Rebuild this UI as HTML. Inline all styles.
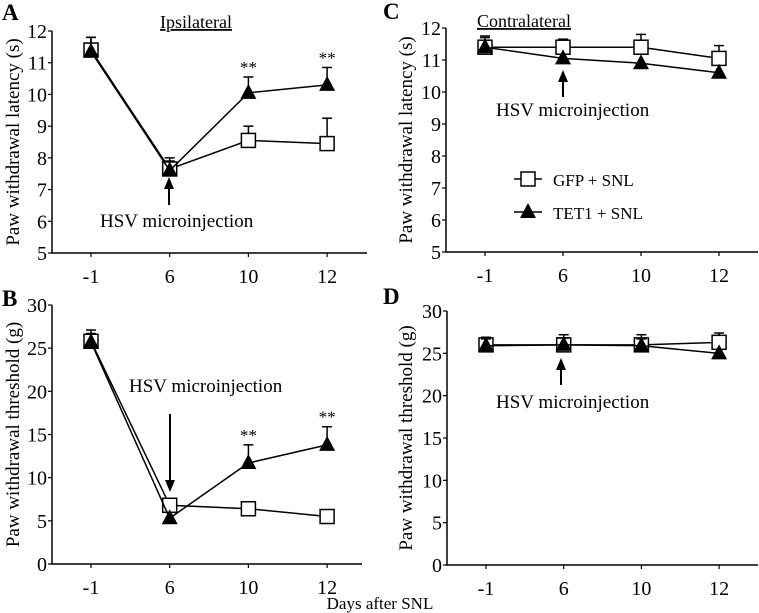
<!DOCTYPE html>
<html><head><meta charset="utf-8"><style>
body{margin:0;background:#fff}
svg{display:block;font-family:"Liberation Serif","Times New Roman",serif}
</style></head><body>
<svg id="chart" width="759" height="613" viewBox="0 0 759 613"></svg>
<script>
const categories = ["-1","6","10","12"];
const aGfp = [11.4, 7.65, 8.55, 8.45];
const aGfpErr = [0.4, 0.35, 0.45, 0.8];
const aTet = [11.35, 7.6, 10.05, 10.3];
const aTetErr = [0.45, 0.3, 0.5, 0.55];
const bGfp = [25.8, 6.8, 6.4, 5.5];
const bGfpErr = [1.3, 0.3, 0.5, 0.6];
const bTet = [25.7, 5.3, 11.7, 13.8];
const bTetErr = [1.0, 0, 2.1, 2.1];
const cGfp = [11.4, 11.4, 11.4, 11.05];
const cGfpErr = [0.35, 0.25, 0.4, 0.4];
const cTet = [11.4, 11.05, 10.9, 10.6];
const cTetErr = [0.3, 0, 0, 0];
const dGfp = [26, 26, 26, 26.3];
const dGfpErr = [0.9, 1.2, 1.2, 1.1];
const dTet = [25.9, 26, 25.9, 25];
const dTetErr = [0.8, 0.8, 0.8, 0];
const latTicks = [5,6,7,8,9,10,11,12];
const thrTicks = [0,5,10,15,20,25,30];

const NS="http://www.w3.org/2000/svg";
const svg=document.getElementById('chart');
function mk(tag,attrs,parent,text){const e=document.createElementNS(NS,tag);for(const k in attrs)e.setAttribute(k,attrs[k]);if(text!==undefined)e.textContent=text;(parent||svg).appendChild(e);return e;}

function panel(o){
  const g=mk('g',{});
  
  
  const y=v=>o.y0+(v-o.ymin)/(o.ymax-o.ymin)*(o.y1-o.y0);
  const x=i=>o.xs+i*o.xstep;
  const ax=mk('path',{d:`M${o.ax},${o.y1} V${o.y0} H${o.axEnd}`,stroke:'#000','stroke-width':1.5,fill:'none'},g);
  
  
  o.ticks.forEach(t=>{
    mk('line',{x1:o.ax-4,x2:o.ax,y1:y(t),y2:y(t),stroke:'#000','stroke-width':1.2},g);
    const tl=mk('text',{x:o.ax-5,y:y(t)+7,'text-anchor':'end','font-size':20},g,String(t));
    
    
  });
  categories.forEach((c,i)=>{
    mk('line',{x1:x(i),x2:x(i),y1:o.y0,y2:o.y0+4,stroke:'#000','stroke-width':1.2},g);
    const tl=mk('text',{x:x(i),y:o.y0+30,'text-anchor':'middle','font-size':20},g,c);
    
    
  });
  const yt=mk('text',{transform:`translate(${o.ytx},${(o.y0+o.y1)/2}) rotate(-90)`,'text-anchor':'middle','font-size':19},g,o.ytitle);
  
  
  const series=[[o.gfp,o.gfpErr,'square'],[o.tet,o.tetErr,'triangle']];
  series.forEach(([vals,errs,shape])=>{
    const s=mk('g',{},g);
    
    
    vals.forEach((v,i)=>{
      if(errs[i]>0){
        mk('line',{x1:x(i),x2:x(i),y1:y(v),y2:y(v+errs[i]),stroke:'#000','stroke-width':1.5},s);
        mk('line',{x1:x(i)-5,x2:x(i)+5,y1:y(v+errs[i]),y2:y(v+errs[i]),stroke:'#000','stroke-width':1.5},s);
      }
    });
    mk('polyline',{points:vals.map((v,i)=>x(i)+','+y(v)).join(' '),fill:'none',stroke:'#000','stroke-width':1.5},s);
    vals.forEach((v,i)=>{
      let m;
      if(shape==='square') m=mk('rect',{x:x(i)-7,y:y(v)-7,width:14,height:14,fill:'#fff',stroke:'#000','stroke-width':1.5},s);
      else m=mk('polygon',{points:`${x(i)},${y(v)-9} ${x(i)-8},${y(v)+6} ${x(i)+8},${y(v)+6}`,fill:'#000'},s);
      
      
    });
  });
  (o.stars||[]).forEach(i=>{
    const t=mk('text',{x:x(i),y:y(o.tet[i]+o.tetErr[i])-4,'text-anchor':'middle','font-size':17},g,'**');
    
    
  });
  return {g,x,y};
}
function arrow(x,yFrom,yTo){
  const g=mk('g',{});
  
  
  const d=yTo<yFrom?1:-1;
  mk('line',{x1:x,x2:x,y1:yFrom,y2:yTo+d*10,stroke:'#000','stroke-width':2},g);
  mk('polygon',{points:`${x},${yTo} ${x-5},${yTo+d*12} ${x+5},${yTo+d*12}`,fill:'#000'},g);
}
function label(txt,x,y,name,size,extra){
  const t=mk('text',Object.assign({x:x,y:y,'font-size':size||17},extra||{}),svg,txt);
  
  
  return t;
}

panel({name:'panel-a',ax:52,axEnd:367,xs:91,xstep:78.7,y0:253,y1:31,ymin:5,ymax:12,ticks:latTicks,ytx:19,ytitle:'Paw withdrawal latency (s)',gfp:aGfp,gfpErr:aGfpErr,tet:aTet,tetErr:aTetErr,stars:[2,3]});
panel({name:'panel-b',ax:52,axEnd:362,xs:91,xstep:78.7,y0:564,y1:305,ymin:0,ymax:30,ticks:thrTicks,ytx:19,ytitle:'Paw withdrawal threshold (g)',gfp:bGfp,gfpErr:bGfpErr,tet:bTet,tetErr:bTetErr,stars:[2,3]});
panel({name:'panel-c',ax:446,axEnd:758,xs:485,xstep:78,y0:252,y1:28,ymin:5,ymax:12,ticks:latTicks,ytx:412,ytitle:'Paw withdrawal latency (s)',gfp:cGfp,gfpErr:cGfpErr,tet:cTet,tetErr:cTetErr});
panel({name:'panel-d',ax:447,axEnd:758,xs:486,xstep:77.7,y0:565,y1:311,ymin:0,ymax:30,ticks:thrTicks,ytx:412,ytitle:'Paw withdrawal threshold (g)',gfp:dGfp,gfpErr:dGfpErr,tet:dTet,tetErr:dTetErr});

label('A',2,20,'panel-label-a',23,{'font-weight':'bold'});
label('B',2,306,'panel-label-b',23,{'font-weight':'bold'});
label('C',383,19,'panel-label-c',23,{'font-weight':'bold'});
label('D',383,304,'panel-label-d',23,{'font-weight':'bold'});
label('Ipsilateral',196,28,'ipsilateral-title',18,{'text-anchor':'middle','text-decoration':'underline'});
label('Contralateral',524,27,'contralateral-title',18,{'text-anchor':'middle','text-decoration':'underline'});

arrow(169,205,177); label('HSV microinjection',100,227,'annotation-a',19);
arrow(170,414,492); label('HSV microinjection',129,392,'annotation-b',19);
arrow(563,97,70); label('HSV microinjection',496,116,'annotation-c',19);
arrow(561,385,358); label('HSV microinjection',496,408,'annotation-d',19);

const lg=mk('g',{});


mk('line',{x1:514,x2:542,y1:179,y2:179,stroke:'#000','stroke-width':1.5},lg);
mk('rect',{x:521,y:172,width:14,height:14,fill:'#fff',stroke:'#000','stroke-width':1.5},lg);
const l1=mk('text',{x:553,y:186,'font-size':17},lg,'GFP + SNL');


mk('line',{x1:514,x2:542,y1:212,y2:212,stroke:'#000','stroke-width':1.5},lg);
mk('polygon',{points:'528,203 520,218 536,218',fill:'#000'},lg);
const l2=mk('text',{x:553,y:219,'font-size':17},lg,'TET1 + SNL');



label('Days after SNL',380,609,'x-axis-title',17,{'text-anchor':'middle'});
</script>
</body></html>
